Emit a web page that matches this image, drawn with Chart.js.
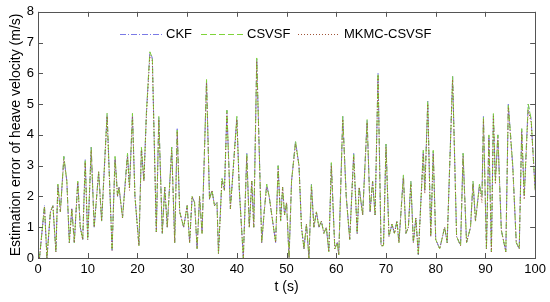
<!DOCTYPE html>
<html>
<head>
<meta charset="utf-8">
<script src="https://cdn.jsdelivr.net/npm/chart.js@4.4.0/dist/chart.umd.min.js"></script>
<style>
  html, body { margin: 0; padding: 0; background: #fff; }
  #wrap { width: 550px; height: 302px; }
</style>
</head>
<body>
<div id="wrap"><canvas id="chart" width="550" height="302"></canvas></div>
<script>
// time stamps (s) of the turning points
const times = [0.3,1.3,1.8,2.5,3,3.6,4,4.5,5.2,5.8,6.3,6.8,7.3,8,8.5,9,9.5,10,10.7,11.3,
  12.2,12.8,13.9,14.9,15.5,16,16.3,17,18,18.4,19,19.5,20.3,20.8,21.3,21.8,22.5,23,23.8,24.3,
  25,25.5,26,26.9,27.5,28,28.5,29.3,30,30.5,31,31.5,32,32.5,33,33.9,34.5,35,35.5,36,
  36.3,37,37.5,38,38.7,40,40.5,41.3,42,42.5,43,43.4,44,45,45.5,46,46.5,47.8,48.3,48.8,
  49.2,49.6,50,50.5,51,51.8,52.5,53,53.5,54,54.5,55,55.5,56,56.5,57,57.5,58,58.5,59,
  59.7,60.2,60.5,61.3,62,62.7,63.5,64.2,64.6,65.3,66.2,66.8,67.3,67.8,68.4,69,69.5,70,70.6,71.2,
  71.7,72.2,72.6,73.5,74,74.5,75,75.5,76,76.5,77.5,77.8,78.4,79,79.5,80,80.8,81.8,82.3,83.4,
  84.2,85,85.5,86.2,87,87.5,88,88.8,89.3,89.6,90.2,90.7,91.2,91.6,92,92.5,93.2,94.1,94.6,95.5,
  96.2,96.8,97.3,97.8,98.6,99.2,100];

// estimation error of heave velocity (m/s)
const ckfVals = [0,1.7,0,1.5,1.7,0.2,2.4,1.5,3.3,2.5,0.5,1.6,0.5,2.5,1.0,0.6,3.2,0.6,3.6,1.0,
  2.8,1.2,4.7,0.25,3.3,2.0,2.3,1.3,3.4,2.3,4.7,2.0,0.4,3.6,2.5,4.7,6.7,6.5,0.85,4.6,
  0.8,2.3,1.0,3.6,0.5,4.2,1.5,1.0,1.7,0.5,2.0,1.8,0.3,2.0,0.8,5.8,1.9,2.2,1.7,1.8,
  0.15,2.6,2.2,4.8,1.6,4.6,2.2,0,3.4,1.0,2.5,1.0,6.5,0.5,1.5,2.4,2.0,0.5,3.0,1.2,
  2.3,1.4,1.8,0,2.5,3.8,3.0,1.0,0.3,1.1,0,2.4,1.0,1.5,1.0,1.2,0.8,1.0,0.2,3.1,
  0.3,0.5,0.1,4.6,2.0,0.6,3.4,0.8,2.3,1.4,4.5,1.5,2.5,1.4,6.0,0.4,0.4,3.7,0.7,1.1,
  0.8,1.2,0.5,2.7,0.8,1.0,2.5,0.5,1.3,0.1,3.5,2.2,5.1,0.7,3.5,0.6,0.3,1.0,0.5,5.9,
  0.7,0.4,3.4,0.5,1.0,2.5,1.2,2.4,2.0,4.6,0.3,4.0,0.2,4.7,2.5,4.0,0.9,0.2,5.0,3.0,
  0.5,0.3,4.2,2.0,5.0,4.5,2.2];
const csvsfVals = [0,1.7,0,1.5,1.7,0.2,2.4,1.5,3.3,2.5,0.5,1.6,0.5,2.5,1.0,0.6,3.2,0.6,3.6,1.0,
  2.8,1.2,4.7,0.25,3.3,2.0,2.3,1.3,3.4,2.3,4.7,2.0,0.4,3.6,2.5,4.7,6.7,6.5,0.85,4.6,
  0.8,2.3,1.0,3.6,0.5,4.2,1.5,1.0,1.7,0.5,2.0,1.8,0.3,2.0,0.8,5.8,1.9,2.2,1.7,1.8,
  0.15,2.6,2.2,4.8,1.6,4.6,2.2,0,3.4,1.0,2.5,1.0,6.5,0.5,1.5,2.4,2.0,0.5,3.0,1.2,
  2.3,1.4,1.8,0,2.5,3.8,3.0,1.0,0.3,1.1,0,2.4,1.0,1.5,1.0,1.2,0.8,1.0,0.2,3.1,
  0.3,0.5,0.1,4.6,2.0,0.6,3.4,0.8,2.3,1.4,4.5,1.5,2.5,1.4,6.0,0.4,0.4,3.7,0.7,1.1,
  0.8,1.2,0.5,2.7,0.8,1.0,2.5,0.5,1.3,0.1,3.5,2.2,5.1,0.7,3.5,0.6,0.3,1.0,0.5,5.9,
  0.7,0.4,3.4,0.5,1.0,2.5,1.2,2.4,2.0,4.6,0.3,4.0,0.2,4.7,2.5,4.0,0.9,0.2,5.0,3.0,
  0.5,0.3,4.2,2.0,5.0,4.5,2.2];
const mkmcVals = [0,1.65,0,1.5,1.7,0.2,2.35,1.5,3.2,2.5,0.5,1.6,0.5,2.45,1.0,0.6,3.1,0.6,3.5,1.0,
  2.8,1.2,4.6,0.25,3.2,2.0,2.3,1.3,3.3,2.2,4.6,2.0,0.4,3.5,2.5,4.6,6.6,6.4,0.85,4.5,
  0.8,2.3,1.0,3.5,0.5,4.1,1.5,1.0,1.7,0.5,2.0,1.8,0.3,2.0,0.8,5.7,1.9,2.2,1.7,1.8,
  0.15,2.5,2.2,4.7,1.6,4.5,2.2,0,3.3,1.0,2.5,1.0,6.4,0.5,1.5,2.3,2.0,0.5,2.9,1.2,
  2.3,1.4,1.8,0,2.5,3.7,3.0,1.0,0.3,1.1,0,2.3,1.0,1.5,1.0,1.2,0.8,1.0,0.2,3.0,
  0.3,0.5,0.1,4.5,2.0,0.6,3.3,0.8,2.3,1.4,4.4,1.5,2.5,1.4,5.9,0.4,0.4,3.6,0.7,1.1,
  0.8,1.2,0.5,2.6,0.8,1.0,2.4,0.5,1.3,0.1,3.4,2.1,5.0,0.7,3.4,0.6,0.3,1.0,0.5,5.8,
  0.7,0.4,3.3,0.5,1.0,2.4,1.2,2.3,1.8,4.5,0.3,3.9,0.2,4.6,2.4,3.9,0.9,0.2,4.9,2.9,
  0.5,0.3,4.1,1.9,4.8,4.4,2.2];

const xTicks = [0,10,20,30,40,50,60,70,80,90,100];
const yTicks = [0,1,2,3,4,5,6,7,8];
const seriesNames = ['CKF', 'CSVSF', 'MKMC-CSVSF'];

const FONT = 'Arial, "Liberation Sans", sans-serif';

function toPoints(vals) {
  return times.map((t, i) => ({ x: t, y: vals[i] }));
}

// box around the plot plus inward ticks on all four sides
const boxPlugin = {
  id: 'box',
  afterDraw(chart) {
    const { ctx, chartArea: a, scales } = chart;
    ctx.save();
    ctx.strokeStyle = '#555';
    ctx.lineWidth = 1;
    ctx.strokeRect(Math.round(a.left) + 0.5, Math.round(a.top) + 0.5,
      Math.round(a.right - a.left), Math.round(a.bottom - a.top));
    ctx.beginPath();
    xTicks.forEach(v => {
      const px = Math.round(scales.x.getPixelForValue(v)) + 0.5;
      ctx.moveTo(px, a.bottom); ctx.lineTo(px, a.bottom - 5);
      ctx.moveTo(px, a.top); ctx.lineTo(px, a.top + 5);
    });
    yTicks.forEach(v => {
      const py = Math.round(scales.y.getPixelForValue(v)) + 0.5;
      ctx.moveTo(a.left, py); ctx.lineTo(a.left + 5, py);
      ctx.moveTo(a.right, py); ctx.lineTo(a.right - 5, py);
    });
    ctx.stroke();

    // legend inside the plot, one row
    const legendX = [120, 201, 298];
    const legendY = 34;
    ctx.font = '13px ' + FONT;
    ctx.textBaseline = 'middle';
    chart.data.datasets.forEach((ds, i) => {
      const x0 = legendX[i];
      ctx.strokeStyle = ds.borderColor;
      ctx.lineWidth = 1;
      ctx.setLineDash(ds.borderDash || []);
      ctx.beginPath();
      ctx.moveTo(x0, legendY + 0.5);
      ctx.lineTo(x0 + 42, legendY + 0.5);
      ctx.stroke();
      ctx.setLineDash([]);
      ctx.fillStyle = '#000';
      ctx.fillText(ds.label, x0 + 46, legendY);
    });
    ctx.restore();
  }
};

new Chart(document.getElementById('chart'), {
  type: 'line',
  data: {
    datasets: [
      {
        label: seriesNames[0],
        data: toPoints(ckfVals),
        borderColor: '#7a7ae6',
        borderDash: [6, 2, 1, 2],
        borderWidth: 1,
        pointRadius: 0,
        tension: 0,
        order: 3
      },
      {
        label: seriesNames[1],
        data: toPoints(csvsfVals),
        borderColor: '#7fd43a',
        borderDash: [6, 3],
        borderWidth: 1,
        pointRadius: 0,
        tension: 0,
        order: 2
      },
      {
        label: seriesNames[2],
        data: toPoints(mkmcVals),
        borderColor: '#a0563a',
        borderDash: [1, 2],
        borderWidth: 1,
        pointRadius: 0,
        tension: 0,
        order: 1
      }
    ]
  },
  options: {
    responsive: false,
    animation: false,
    layout: { padding: { top: 9, right: 14, left: 0, bottom: 0 } },
    plugins: {
      legend: { display: false },
      tooltip: { enabled: false }
    },
    scales: {
      x: {
        type: 'linear',
        min: 0,
        max: 100,
        afterBuildTicks(scale) { scale.ticks = xTicks.map(v => ({ value: v })); },
        afterFit(scale) { scale.height = 44; },
        grid: { display: false, drawTicks: false },
        border: { display: false },
        ticks: { color: '#000', font: { family: FONT, size: 13 }, padding: 4, maxRotation: 0 },
        title: { display: true, text: 't (s)', color: '#000', font: { family: FONT, size: 14 }, padding: { top: 2, bottom: 6 } }
      },
      y: {
        min: 0,
        max: 8,
        afterBuildTicks(scale) { scale.ticks = yTicks.map(v => ({ value: v })); },
        afterFit(scale) { scale.width = 38; },
        grid: { display: false, drawTicks: false },
        border: { display: false },
        ticks: { color: '#000', font: { family: FONT, size: 13 }, padding: 4 },
        title: { display: true, text: 'Estimation error of heave velocity (m/s)', color: '#000', font: { family: FONT, size: 14 }, padding: { top: 8, bottom: 4 } }
      }
    }
  },
  plugins: [boxPlugin]
});
</script>
</body>
</html>
